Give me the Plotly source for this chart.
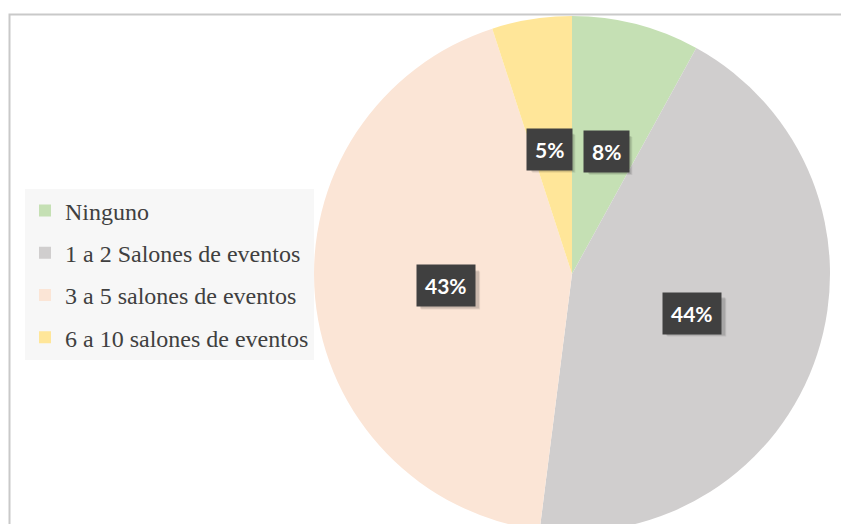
import math
import plotly.graph_objects as go

categories = ["Ninguno", "1 a 2 Salones de eventos", "3 a 5 salones de eventos", "6 a 10 salones de eventos"]
values = [8, 44, 43, 5]
colors = ["#c5e0b4", "#d0cece", "#fbe5d6", "#ffe699"]

W, H = 841, 536          # figure is a bit taller than the 524px view: the pie runs off the bottom edge
R = 258
CX, CY = 572, H - 274    # pixel center (measured from bottom)

fig = go.Figure()
fig.add_trace(go.Pie(
    labels=categories, values=values, sort=False, direction="clockwise", rotation=0,
    marker=dict(colors=colors, line=dict(width=0)),
    textinfo="none", hoverinfo="label+percent", showlegend=False,
    domain=dict(x=[(CX - R) / W, (CX + R) / W], y=[(CY - R) / H, (CY + R) / H]),
))

# legend entries (one group each so the gap can be set)
for cat, col in zip(categories, colors):
    fig.add_trace(go.Scatter(
        x=[None], y=[None], mode="markers", name=cat, legendgroup=cat,
        marker=dict(symbol="square", size=12, color=col), showlegend=True,
    ))

# data labels placed at slice mid-angles, then pushed apart if they collide
total = sum(values)
cum = 0
labels = []
for v in values:
    mid = (cum + v / 2) / total * 2 * math.pi
    cum += v
    r = 0.49 * R
    txt = f"{round(v / total * 100)}%"
    labels.append([CX + r * math.sin(mid), CY + r * math.cos(mid), txt])

def box_w(t):
    return 16 * len(t) + 10

BOX_H = 37
min_gap = 15
for _ in range(20):
    for i in range(len(labels)):
        for j in range(i + 1, len(labels)):
            a, b = labels[i], labels[j]
            if abs(a[1] - b[1]) < 40:
                need = (box_w(a[2]) + box_w(b[2])) / 2 + min_gap
                d = abs(a[0] - b[0])
                if d < need:
                    push = (need - d) / 2
                    if a[0] >= b[0]:
                        a[0] += push; b[0] -= push
                    else:
                        a[0] -= push; b[0] += push

for px, py, txt in labels:
    w = box_w(txt)
    # soft drop shadow behind each label box
    for k, alpha in ((5, 0.08), (4, 0.12)):
        fig.add_shape(type="rect", xref="paper", yref="paper",
                      x0=(px - w / 2 + k - 1) / W, x1=(px + w / 2 + k) / W,
                      y0=(py - BOX_H / 2 - k) / H, y1=(py + BOX_H / 2 - k + 1) / H,
                      line=dict(width=0), fillcolor=f"rgba(0,0,0,{alpha})", layer="above")
    fig.add_annotation(
        x=px / W, y=py / H, xref="paper", yref="paper", showarrow=False,
        xanchor="center", yanchor="middle",
        text=f"<b>{txt}</b>",
        font=dict(family="Lato", size=21, color="#ffffff"),
        bgcolor="#404040", borderpad=8,
    )

# chart border
fig.add_shape(type="rect", xref="paper", yref="paper",
              x0=9.5 / W, x1=1.2, y0=-0.2, y1=1 - 14.5 / H,
              line=dict(color="#c9c9c9", width=2), fillcolor="rgba(0,0,0,0)", layer="below")

fig.update_layout(
    width=W, height=H, margin=dict(l=0, r=0, t=0, b=0),
    paper_bgcolor="#ffffff", plot_bgcolor="rgba(0,0,0,0)",
    xaxis=dict(visible=False), yaxis=dict(visible=False),
    legend=dict(
        x=25 / W, y=(H - 274) / H, xanchor="left", yanchor="middle",
        bgcolor="#f7f7f7", tracegroupgap=8, itemwidth=30,
        font=dict(family="Liberation Serif", size=24, color="#404040"),
    ),
    showlegend=True,
)

fig.write_html("out.html", config={"displayModeBar": False},
               post_script="document.body.style.margin='0';document.body.style.overflow='hidden';")
